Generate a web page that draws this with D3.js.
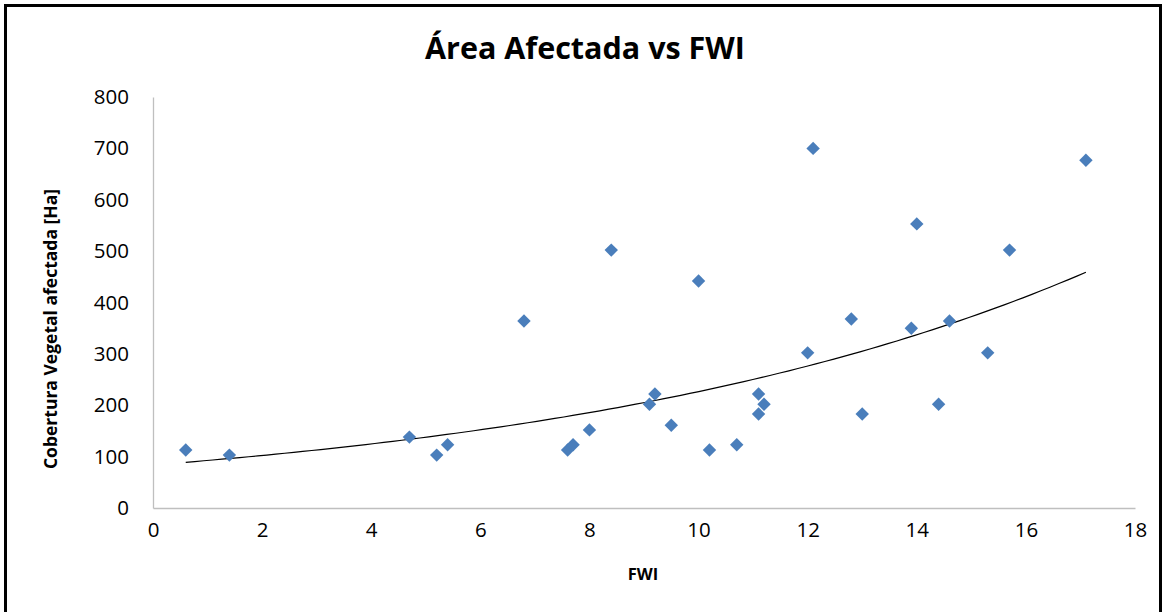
<!DOCTYPE html>
<html><head><meta charset="utf-8">
<script src="https://cdn.jsdelivr.net/npm/d3@7"></script>
<style>body{margin:0;background:#fff}svg{display:block}</style>
</head><body><svg id="c" width="1166" height="612"></svg>
<script>
const fwi  = [0.6,1.4,4.7,5.2,5.4,6.8,7.6,7.7,8.0,8.4,9.1,9.2,9.5,10.0,10.2,10.7,11.1,11.2,11.1,12.0,12.1,12.8,13.0,13.9,14.0,14.4,14.6,15.3,15.7,17.1];
const area = [113,103,138,103,123,364,113,123,152,502,202,222,161,442,113,123,222,202,183,302,700,368,183,350,553,202,364,302,502,677];
const xTicks = [0,2,4,6,8,10,12,14,16,18];
const yTicks = [0,100,200,300,400,500,600,700,800];
const title = "Área Afectada vs FWI";
const xTitle = "FWI";
const yTitle = "Cobertura Vegetal afectada [Ha]";

const svg = d3.select("#c");
const font = "'Open Sans', sans-serif";
const x = d3.scaleLinear().domain([0,18]).range([153,1135]);
const y = d3.scaleLinear().domain([0,800]).range([508,97]);

svg.append("rect").attr("x",5.5).attr("y",5.5).attr("width",1155).attr("height",620)
  .attr("fill","#fff").attr("stroke","#000").attr("stroke-width",3);

// axes
const xa = svg.append("g").attr("transform","translate(0,508)")
  .call(d3.axisBottom(x).tickValues(xTicks).tickSize(0).tickPadding(14));
const ya = svg.append("g").attr("transform","translate(153,0)")
  .call(d3.axisLeft(y).tickValues(yTicks).tickSize(0).tickPadding(24));
[xa,ya].forEach(a=>{
  a.select(".domain").attr("stroke","#bfbfbf").attr("stroke-width",1.3);
  a.selectAll("text").attr("font-family",font).attr("font-size",20.5).attr("fill","#000");
});

// trendline: exponential least-squares fit (ln y on x)
const n = fwi.length;
const ly = area.map(v=>Math.log(v));
const mx = d3.mean(fwi), my = d3.mean(ly);
let sxy=0,sxx=0;
for(let i=0;i<n;i++){sxy+=(fwi[i]-mx)*(ly[i]-my);sxx+=(fwi[i]-mx)**2;}
const b = sxy/sxx, a = Math.exp(my-b*mx);
const [x0,x1] = d3.extent(fwi);
const tl = d3.range(0,101).map(i=>{const xv=x0+(x1-x0)*i/100;return [xv,a*Math.exp(b*xv)];});
svg.append("path").datum(tl)
  .attr("d",d3.line().x(d=>x(d[0])).y(d=>y(d[1])))
  .attr("fill","none").attr("stroke","#000").attr("stroke-width",1.2);

// points
svg.append("g").selectAll("path").data(fwi.map((v,i)=>[v,area[i]])).join("path")
  .attr("d",d3.symbol().type(d3.symbolSquare).size(90))
  .attr("transform",d=>`translate(${x(d[0])},${y(d[1])}) rotate(45)`)
  .attr("fill","#4a7ebb");

// titles
svg.append("text").attr("x",585).attr("y",59).attr("text-anchor","middle")
  .attr("font-family",font).attr("font-weight","bold").attr("font-size",30.5).text(title);
svg.append("text").attr("x",643).attr("y",580).attr("text-anchor","middle")
  .attr("font-family",font).attr("font-weight","bold").attr("font-size",16.5).text(xTitle);
svg.append("text").attr("transform","translate(57,329) rotate(-90)").attr("text-anchor","middle")
  .attr("font-family",font).attr("font-weight","bold").attr("font-size",17.5).text(yTitle);
</script></body></html>
